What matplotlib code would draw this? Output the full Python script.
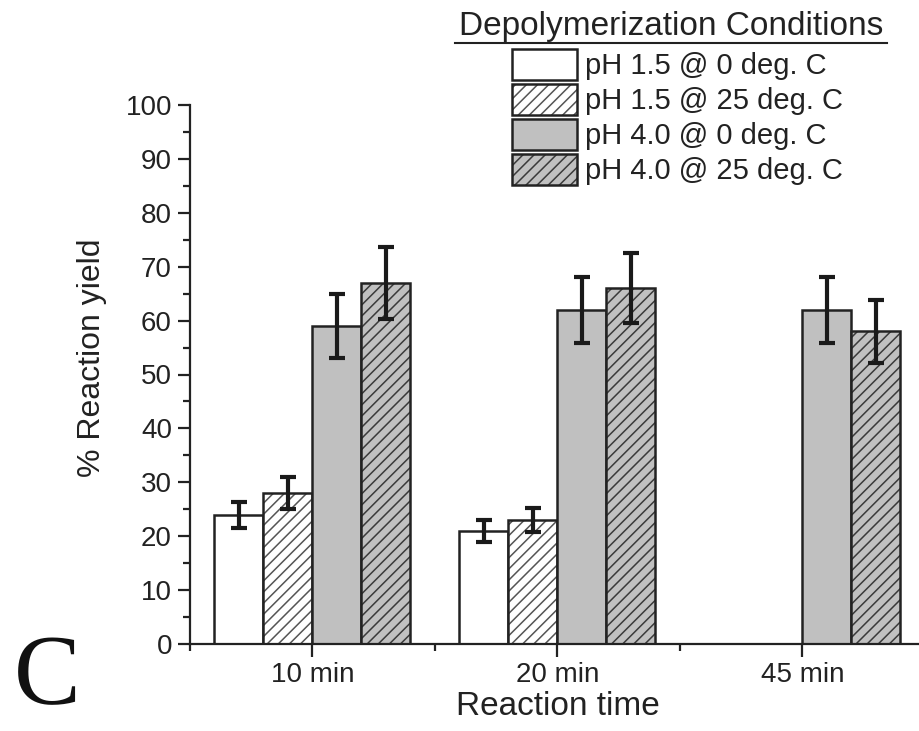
import numpy as np
import matplotlib
import matplotlib.pyplot as plt
from matplotlib.lines import Line2D

matplotlib.rcParams['font.family'] = ['Liberation Sans', 'DejaVu Sans']
matplotlib.rcParams['hatch.linewidth'] = 1.1

# data
times = ['10 min', '20 min', '45 min']
conditions = ['pH 1.5 @ 0 deg. C', 'pH 1.5 @ 25 deg. C',
              'pH 4.0 @ 0 deg. C', 'pH 4.0 @ 25 deg. C']
yield_ph15_0 = [24, 21, np.nan]
yield_ph15_25 = [28, 23, np.nan]
yield_ph40_0 = [59, 62, 62]
yield_ph40_25 = [67, 66, 58]
err_ph15_0 = [2.4, 2.0, np.nan]
err_ph15_25 = [2.9, 2.3, np.nan]
err_ph40_0 = [5.9, 6.1, 6.1]
err_ph40_25 = [6.7, 6.5, 5.9]

values = [yield_ph15_0, yield_ph15_25, yield_ph40_0, yield_ph40_25]
errors = [err_ph15_0, err_ph15_25, err_ph40_0, err_ph40_25]
faces = ['white', 'white', '#c0c0c0', '#c0c0c0']
hatches = [None, '///', None, '///']
hatch_cols = ['#222222', '#555555', '#222222', '#3a3a3a']

fig = plt.figure(figsize=(9.2, 7.31), dpi=100)
ax = fig.add_axes([190/920, 87/731, 735/920, 539/731])

x = np.arange(1, len(times) + 1)
w = 0.2
offsets = [-1.5*w, -0.5*w, 0.5*w, 1.5*w]
handles = []
for i in range(4):
    b = ax.bar(x + offsets[i], values[i], width=w, color=faces[i],
               edgecolor='#222222', linewidth=1.8, hatch=hatches[i],
               label=conditions[i], zorder=2)
    for p in b:
        p._hatch_color = matplotlib.colors.to_rgba(hatch_cols[i])
    ax.errorbar(x + offsets[i], values[i], yerr=errors[i], fmt='none',
                ecolor='#1a1a1a', elinewidth=3, capsize=6, capthick=3,
                zorder=3)
    handles.append(b)

ax.set_xlim(0.5, 3.5)
ax.set_ylim(0, 100)
ax.set_yticks(np.arange(0, 101, 10))
ax.set_yticks(np.arange(5, 100, 10), minor=True)
ax.set_xticks(x)
ax.set_xticklabels(times)
ax.set_xticks([0.5, 1.5, 2.5], minor=True)
ax.spines['top'].set_visible(False)
ax.spines['right'].set_visible(False)
for s in ['left', 'bottom']:
    ax.spines[s].set_linewidth(1.6)
    ax.spines[s].set_color('#222222')
ax.tick_params(axis='both', which='major', direction='out', length=9,
               width=1.6, labelsize=20, colors='#222222', pad=4)
ax.tick_params(axis='both', which='minor', direction='out', length=5,
               width=1.6, colors='#222222')
ax.set_xlabel('Reaction time', fontsize=24, color='#222222', labelpad=2)
ax.set_ylabel('% Reaction yield', fontsize=23, color='#222222')
ax.yaxis.set_label_coords(-0.113, 0.531)

leg = ax.legend(handles=handles, labels=conditions, loc='upper left',
                bbox_to_anchor=(512/920, 1 - 49/731),
                bbox_transform=fig.transFigure, frameon=False,
                fontsize=21, handlelength=2.23, handleheight=1.27,
                labelspacing=0.12, handletextpad=0.27, borderpad=0,
                borderaxespad=0)
for t in leg.get_texts():
    t.set_color('#222222')

fig.text(671/920, 1 - 27/731, 'Depolymerization Conditions', fontsize=24,
         ha='center', va='center', color='#222222')
fig.add_artist(Line2D([455/920, 887/920], [1 - 43/731, 1 - 43/731],
                      transform=fig.transFigure, color='#222222', lw=1.5))

fig.text(14/920, 1 - 703/731, 'C', fontsize=72, family='Liberation Serif',
         ha='left', va='baseline', color='#111111')

fig.savefig('out.png', dpi=100)
